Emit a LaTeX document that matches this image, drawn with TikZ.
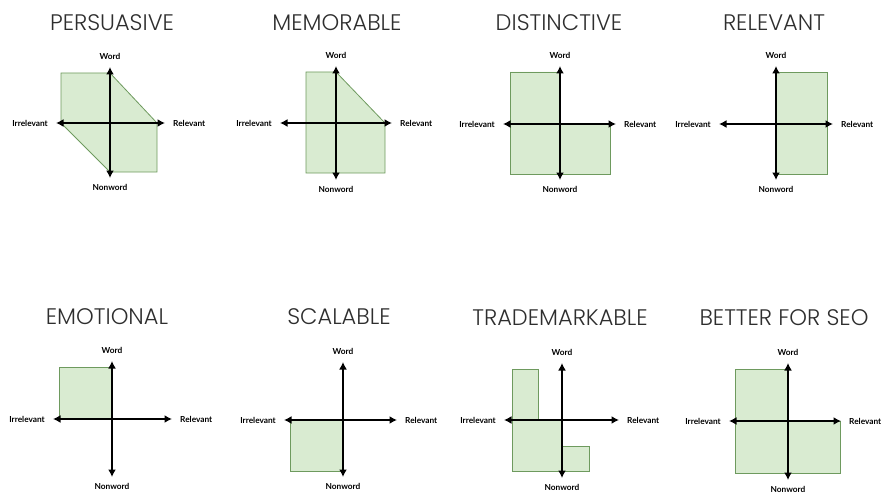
\documentclass[tikz,border=0pt]{standalone}
\usepackage{fontspec}
\usetikzlibrary{arrows.meta}
\newfontfamily\titlefont{Poppins}[UprightFont=* Light]
\newfontfamily\labelfont{Lato}
\definecolor{fillgreen}{HTML}{D9EBD1}
\definecolor{edgegreen}{HTML}{6E9A5E}
\definecolor{titlegray}{HTML}{2E2E2E}

\tikzset{
  axis/.style={line width=2.1pt, {Latex[length=7.5pt,width=8pt]}-{Latex[length=7.5pt,width=8pt]}},
  region/.style={fill=fillgreen, draw=edgegreen, line width=0.8pt, line join=miter},
  axlabel/.style={font=\labelfont\bfseries\fontsize{8.3}{10}\selectfont, inner sep=0pt},
  heading/.style={font=\titlefont\fontsize{22.5}{26}\selectfont, text=titlegray, inner sep=0pt}
}

% #1 name prefix, #2 cx, #3 cy, #4 left tip x, #5 right tip x, #6 top tip y, #7 bottom tip y
\newcommand\quadaxes[7]{%
  \coordinate (#1c) at (#2,#3);
  \coordinate (#1w) at (#4,#3);
  \coordinate (#1e) at (#5,#3);
  \coordinate (#1n) at (#2,#6);
  \coordinate (#1s) at (#2,#7);
  \draw[axis] (#1w) -- (#1e);
  \draw[axis] (#1n) -- (#1s);
  \node[axlabel, anchor=south] (#1word) at ([yshift=7pt]#1n) {Word};
  \node[axlabel, anchor=north] (#1nonword) at ([yshift=-6pt]#1s) {Nonword};
  \node[axlabel, anchor=east] (#1irr) at ([xshift=-8pt]#1w) {Irrelevant};
  \node[axlabel, anchor=west] (#1rel) at ([xshift=8pt]#1e) {Relevant};
}

\begin{document}
\begin{tikzpicture}[x=1pt, y=-1pt]
\useasboundingbox (0,0) rectangle (889,495);

% ---------- top row ----------
\node[heading] (t1) at (112,23) {PERSUASIVE};
\filldraw[region] (61,73) -- (110,73) -- (157,123) -- (157,172) -- (110,172) -- (61,123) -- cycle;
\quadaxes{p}{110}{123}{56}{165}{67}{178}

\node[heading] (t2) at (337,23) {MEMORABLE};
\filldraw[region] (306,72) -- (336,72) -- (385,123) -- (385,173) -- (306,173) -- cycle;
\quadaxes{m}{336}{123}{280}{392}{66}{180}

\node[heading] (t3) at (559,23) {DISTINCTIVE};
\filldraw[region] (510,72) -- (560,72) -- (560,124) -- (610,124) -- (610,174) -- (510,174) -- cycle;
\quadaxes{d}{560}{124}{503}{616}{66}{180}

\node[heading] (t4) at (774,23) {RELEVANT};
\filldraw[region] (776,72) rectangle (827,174);
\quadaxes{r}{776}{124}{719}{833}{66}{180}

% ---------- bottom row ----------
\node[heading] (t5) at (107,317) {EMOTIONAL};
\filldraw[region] (59,367) rectangle (112,419);
\quadaxes{em}{112}{419}{53}{172}{361}{477}

\node[heading] (t6) at (339,317) {SCALABLE};
\filldraw[region] (290,420) rectangle (343,471);
\quadaxes{s}{343}{420}{284}{397}{362}{477}

\node[heading] (t7) at (560,318) {TRADEMARKABLE};
\filldraw[region] (512,369) -- (538,369) -- (538,420) -- (562,420) -- (562,446) -- (589,446) -- (589,471) -- (512,471) -- cycle;
\quadaxes{tm}{562}{420}{504}{619}{363}{478}

\node[heading] (t8) at (784,318) {BETTER FOR SEO};
\filldraw[region] (735,369) -- (788,369) -- (788,421) -- (840,421) -- (840,473) -- (735,473) -- cycle;
\quadaxes{b}{788}{421}{729}{841}{363}{480}
\end{tikzpicture}
\end{document}
